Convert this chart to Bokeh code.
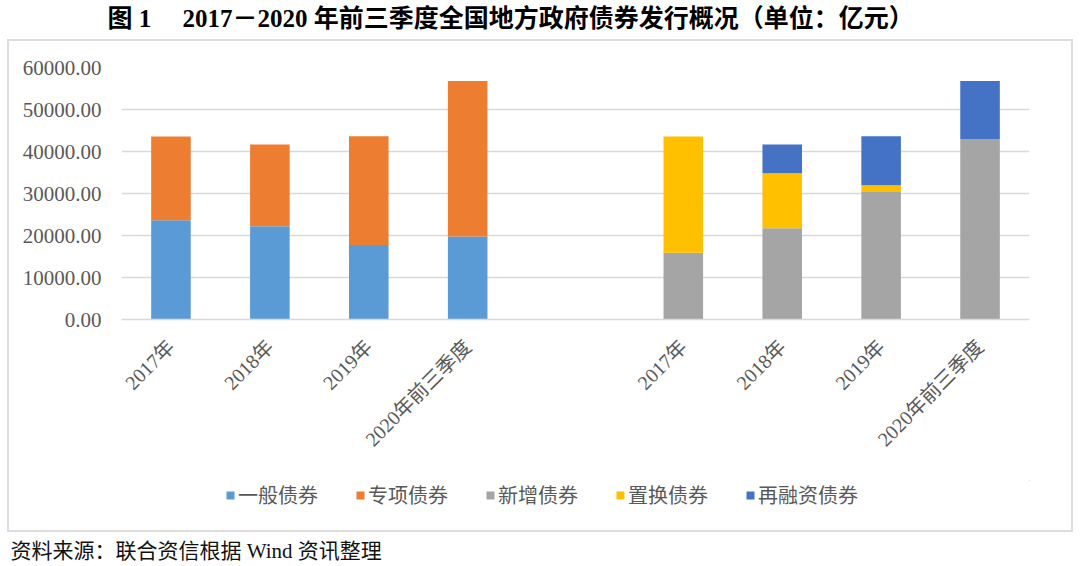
import math
from bokeh.plotting import figure
from bokeh.layouts import column
from bokeh.models import (FactorRange, Range1d, FixedTicker, PrintfTickFormatter,
                          Legend, LegendItem, Title, ColumnDataSource, InlineStyleSheet)
from bokeh.embed import file_html
from bokeh.resources import INLINE

# ---------------- data ----------------
years = ["2017年", "2018年", "2019年", "2020年前三季度"]
group_type = "按品种"
group_use = "按用途"

general = [23619, 22192, 17742, 19780]      # 一般债券
special = [19962, 19460, 25882, 37000]      # 专项债券
new_issue = [15898, 21705, 30367, 43000]    # 新增债券
replacement = [27683, 13130, 1579, 0]       # 置换债券
refinancing = [0, 6817, 11678, 13780]       # 再融资债券

series_names = ["一般债券", "专项债券", "新增债券", "置换债券", "再融资债券"]
series_colors = ["#5B9BD5", "#ED7D31", "#A5A5A5", "#FFC000", "#4472C4"]
y_ticks = [0, 10000, 20000, 30000, 40000, 50000, 60000]

title_text = "图 1\u3000\u00a02017－2020 年前三季度全国地方政府债券发行概况（单位：亿元）"
source_text = "资料来源：联合资信根据 Wind 资讯整理"

SERIF = "Liberation Serif, Noto Sans CJK SC"
GRID = "#D9D9D9"
TXT = "#595959"

left_x = [(group_type, y) for y in years]
right_x = [(group_use, y) for y in years]
src_left = ColumnDataSource(dict(x=left_x, general=general, special=special))
src_right = ColumnDataSource(dict(x=right_x, new_issue=new_issue,
                                  replacement=replacement, refinancing=refinancing))

# ---------------- main chart ----------------
p = figure(width=1080, height=480, output_backend="svg", toolbar_location=None,
           x_range=FactorRange(factors=left_x + right_x, group_padding=1.18,
                               factor_padding=0, range_padding=0),
           y_range=Range1d(0, 60000),
           min_border_left=121, min_border_right=51,
           min_border_top=66, min_border_bottom=161)
p.outline_line_color = None

p.vbar_stack(["general", "special"], x="x", width=0.4,
             color=series_colors[:2], line_color=None, source=src_left)
p.vbar_stack(["new_issue", "replacement", "refinancing"], x="x", width=0.4,
             color=series_colors[2:], line_color=None, source=src_right)

p.xgrid.grid_line_color = None
p.ygrid.grid_line_color = GRID
p.ygrid.grid_line_width = 1.5

p.yaxis.ticker = FixedTicker(ticks=y_ticks)
p.yaxis.formatter = PrintfTickFormatter(format="%.2f")
p.yaxis.axis_line_color = None
p.yaxis.major_tick_line_color = None
p.yaxis.minor_tick_line_color = None
p.yaxis.major_label_standoff = 14
p.yaxis.major_label_text_font = SERIF
p.yaxis.major_label_text_font_size = "21px"
p.yaxis.major_label_text_color = TXT

xa = p.xaxis[0]
xa.axis_line_color = GRID
xa.axis_line_width = 1.5
xa.major_tick_line_color = None
xa.minor_tick_line_color = None
xa.major_label_orientation = math.pi / 4
xa.major_label_standoff = 18
xa.major_label_text_font = SERIF
xa.major_label_text_font_size = "20px"
xa.major_label_text_color = TXT
xa.group_text_color = None
xa.group_text_font_size = "1px"
if hasattr(xa, "separator_line_color"):
    xa.separator_line_color = None

# spacer keeps the title well above the plot area
p.add_layout(Title(text="\u00a0", text_font_size="2px", standoff=30), "above")
p.add_layout(Title(text=title_text, align="left", offset=-14, standoff=4,
                   text_font=SERIF, text_font_size="25px", text_font_style="bold",
                   text_color="black"), "above")

# ---------------- legend + source strip ----------------
s = figure(width=1080, height=86, output_backend="svg", toolbar_location=None,
           x_axis_type=None, y_axis_type=None,
           x_range=Range1d(0, 1), y_range=Range1d(0, 1),
           min_border_left=121, min_border_right=51,
           min_border_top=0, min_border_bottom=0)
s.outline_line_color = None
# legend swatch proxies: one zero-height bar each, lying outside the strip's visible range
swatches = [s.vbar(x=[5], top=[5], bottom=[5], width=0.4, color=c, line_color=None)
            for c in series_colors]

legend = Legend(items=[LegendItem(label=n, renderers=[r]) for n, r in zip(series_names, swatches)],
                orientation="horizontal", location=(104, 23),
                border_line_color=None, background_fill_alpha=0,
                padding=0, margin=0, spacing=37,
                glyph_width=10, glyph_height=10, label_standoff=3,
                label_text_font="Noto Sans CJK SC", label_text_font_size="20px",
                label_text_color=TXT)
s.add_layout(legend)

s.add_layout(Title(text=source_text, align="left", offset=-111, standoff=8,
                   text_font=SERIF, text_font_size="21px", text_font_style="normal",
                   text_color="#111111"), "below")

box_css = InlineStyleSheet(css="""
:host { position: relative; }
:host::after { content: ""; position: absolute; left: 7px; top: 39px;
  width: 1062px; height: 489px; border: 2px solid #DDDDDD; pointer-events: none; }
""")

layout = column(p, s, spacing=0, stylesheets=[box_css])
open("out.html", "w").write(file_html(layout, INLINE))
